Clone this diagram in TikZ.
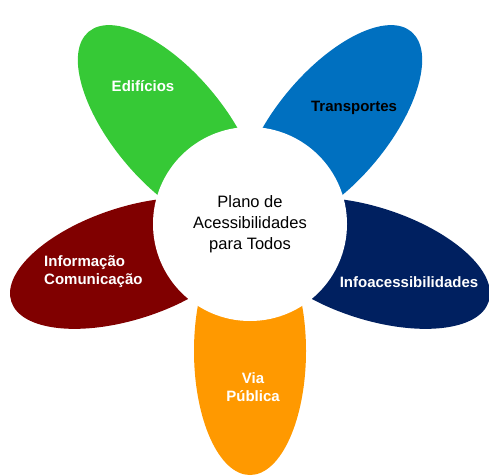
\documentclass[tikz,border=0pt]{standalone}
\usepackage{fontspec}
\setmainfont{Liberation Sans}
\definecolor{petgreen}{HTML}{36C936}
\definecolor{petblue}{HTML}{0070C0}
\definecolor{petnavy}{HTML}{002060}
\definecolor{petorange}{HTML}{FF9900}
\definecolor{petred}{HTML}{800000}
\tikzset{
  petal/.style={fill=#1},
  lab/.style={font=\fontsize{15}{18}\selectfont\bfseries, align=center, inner sep=0pt},
}
\begin{document}
\begin{tikzpicture}[x=1pt,y=1pt]
\useasboundingbox (0,0) rectangle (489,475);
\coordinate (C) at (250,251);
\foreach \ang/\col in {130/petgreen, 50/petblue, -18/petnavy, -90/petorange, 198/petred}{
  \begin{scope}[shift={(C)}, rotate=\ang]
    \fill[petal=\col] (127,0) ellipse [x radius=124, y radius=56];
  \end{scope}
}
\node[circle, fill=white, minimum size=194pt, inner sep=0pt,
      font=\fontsize{16.5}{21}\selectfont, align=center] (hub) at (C)
      {Plano de\\Acessibilidades\\para Todos};
\node[lab, text=white] (edif) at (143,389) {Edifícios};
\node[lab, text=black] (trans) at (354,367) {Transportes};
\node[lab, text=white] (info) at (409,193) {Infoacessibilidades};
\node[lab, text=white] (via) at (253,88) {Via\\Pública};
\node[lab, text=white, align=left, anchor=west] (infcom) at (44,203) {Informação\\Comunicação};
\end{tikzpicture}
\end{document}
